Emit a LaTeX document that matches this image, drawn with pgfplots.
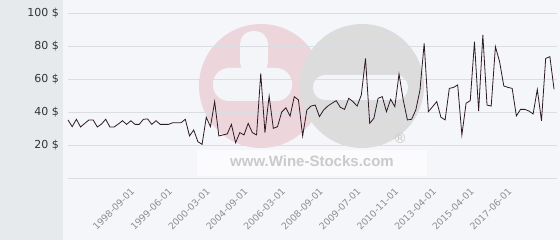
\documentclass[border=0pt]{standalone}
\usepackage{fontspec}
\setmainfont{DejaVu Sans}
\newfontfamily\wmfont{Liberation Sans}
\usepackage{pgfplots}
\pgfplotsset{compat=1.18}
\definecolor{leftpanel}{HTML}{E6EAED}
\definecolor{plotpanel}{HTML}{F5F6F9}
\definecolor{wmpink}{HTML}{ECD6DB}
\definecolor{wmgray}{HTML}{DCDCDD}
\definecolor{wmwhite}{HTML}{F4F5F8}
\definecolor{gridc}{HTML}{DADDE2}
\definecolor{linec}{HTML}{2E1A24}
\definecolor{ylab}{HTML}{333333}
\definecolor{xlab}{HTML}{8E8E8E}
\definecolor{wmtext}{HTML}{CACACA}
\begin{document}
\begin{tikzpicture}[x=1pt,y=1pt]
\useasboundingbox (0,0) rectangle (560,240);
\fill[leftpanel] (0,0) rectangle (62.5,240);
\fill[plotpanel] (62.5,0) rectangle (560,240);
% watermark
\fill[wmpink] (261,154) circle (62);
\fill[wmgray] (362,154) circle (62);
\fill[wmwhite, rounded corners=13pt] (240,165) rectangle (268,209);
\fill[wmwhite, rounded corners=16pt] (213,139) rectangle (292,172);
\fill[wmwhite, rounded corners=12pt] (313,140) rectangle (408,165);
\fill[white!60!plotpanel] (197,64) rectangle (427,90);
\node[text=wmtext, font=\wmfont\bfseries\fontsize{15}{15}\selectfont] at (312,79) {www.Wine-Stocks.com};
\node[text=wmtext, font=\fontsize{14}{14}\selectfont] at (400,102) {®};
\begin{axis}[
  at={(68pt,62pt)}, anchor=south west,
  scale only axis, width=489pt, height=165pt,
  xmin=0, xmax=116.7, ymin=0, ymax=100,
  axis line style={draw=none},
  major tick length=0pt,
  ytick={0,20,40,60,80,100},
  yticklabels={,20 \$,40 \$,60 \$,80 \$,100 \$},
  ymajorgrids, grid style={gridc, line width=0.8pt},
  yticklabel style={font=\fontsize{11}{11}\selectfont, text=ylab, anchor=east, inner sep=0pt, xshift=-9pt},
  xtick={14,23,32,41,50,59,68,77,86,95,104},
  xticklabels={1998-09-01,1999-06-01,2000-03-01,2004-09-01,2006-03-01,2008-09-01,2009-07-01,2010-11-01,2013-04-01,2015-04-01,2017-06-01},
  xticklabel style={font=\fontsize{9.3}{9.3}\selectfont, text=xlab, rotate=45, anchor=north east, inner sep=0pt, yshift=-9pt, xshift=-4pt},
  /pgf/number format/assume math mode=true,
  clip=false,
]
\addplot[linec, line width=0.8pt, mark=none] table[x expr=\coordindex, y index=0, header=false] {
35.2
31.1
35.6
30.9
33.1
35.2
35.2
30.9
32.7
35.6
30.9
30.9
32.7
34.7
32.5
34.7
32.5
32.5
35.6
35.8
32.5
34.7
32.5
32.5
32.5
33.5
33.5
33.5
35.6
25.5
29.1
22.0
20.4
36.8
31.1
46.3
25.5
26.1
26.7
32.5
21.4
27.5
26.1
33.1
27.5
26.1
63.4
27.5
49.7
30.1
31.1
40.0
42.5
37.5
49.3
47.3
25.5
41.2
43.6
44.2
37.2
41.2
43.6
45.3
46.9
42.8
41.6
48.3
46.3
43.6
50.3
72.5
33.1
36.2
48.3
49.3
40.2
47.7
43.2
63.0
47.3
35.2
35.6
41.2
53.3
81.6
40.2
43.2
46.3
36.8
35.2
54.3
54.9
56.4
26.1
45.3
46.9
82.6
40.6
86.7
44.2
43.6
79.6
70.5
55.8
54.9
54.3
37.6
41.6
41.6
40.6
38.8
53.7
34.7
72.5
73.5
53.7
};
\end{axis}
\end{tikzpicture}
\end{document}
